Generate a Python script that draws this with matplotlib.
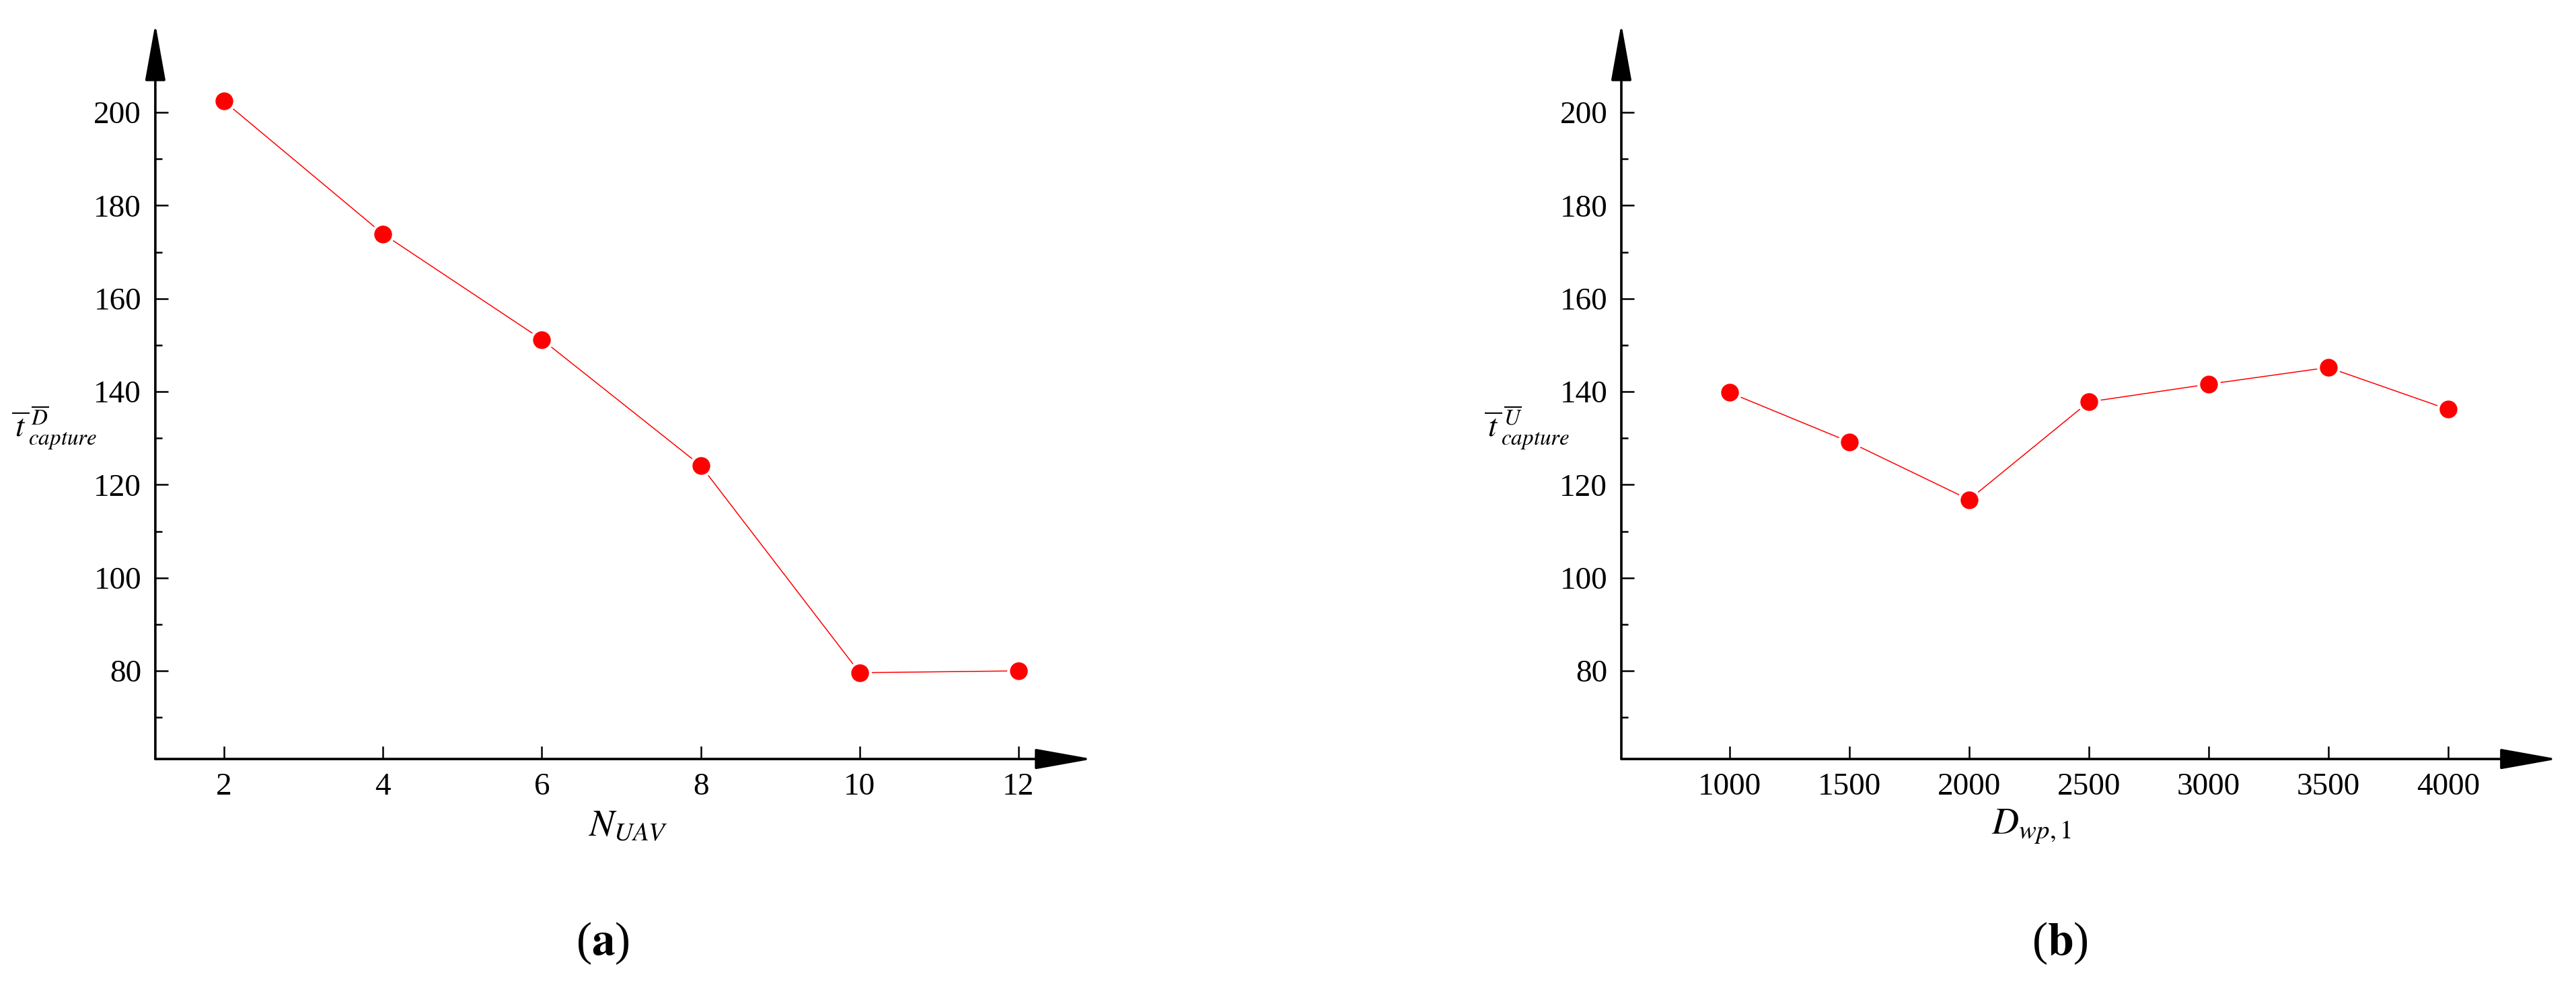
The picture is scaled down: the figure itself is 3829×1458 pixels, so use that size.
import numpy as np
import matplotlib
matplotlib.use('Agg')
import matplotlib.pyplot as plt
from matplotlib.ticker import FixedLocator

plt.rcParams['font.family'] = ['Liberation Serif', 'DejaVu Serif']
plt.rcParams['mathtext.fontset'] = 'stix'

# data
n_uav = [2, 4, 6, 8, 10, 12]
t_capture_d = [202.4, 173.9, 151.2, 124.1, 79.6, 80.0]

d_wp = [1000, 1500, 2000, 2500, 3000, 3500, 4000]
t_capture_u = [139.8, 129.2, 116.8, 137.8, 141.6, 145.2, 136.2]

y_major = [80, 100, 120, 140, 160, 180, 200]
y_minor = [70, 90, 110, 130, 150, 170, 190]

fig = plt.figure(figsize=(38.29, 14.58), dpi=100)
ax1 = fig.add_axes([0.0603, 0.2263, 0.3638, 0.7497])
ax2 = fig.add_axes([0.6294, 0.2263, 0.3635, 0.7497])


def style_axis(ax, xlim, xticks, xlabel, ylabel, xlab_x, ylab_x):
    ax.set_xlim(*xlim)
    ax.set_ylim(61.06, 219.1)
    for s in ax.spines.values():
        s.set_visible(False)
    arrow = dict(arrowstyle='-|>,head_length=53,head_width=9.5', lw=2.6,
                 color='black', shrinkA=0, shrinkB=0, mutation_scale=1)
    ax.annotate('', xy=(1, 0), xytext=(0, 0), xycoords='axes fraction',
                arrowprops=arrow, annotation_clip=False)
    ax.annotate('', xy=(0, 1), xytext=(0, 0), xycoords='axes fraction',
                arrowprops=arrow, annotation_clip=False)
    ax.set_xticks(xticks)
    ax.yaxis.set_major_locator(FixedLocator(y_major))
    ax.yaxis.set_minor_locator(FixedLocator(y_minor))
    ax.tick_params(axis='both', which='major', direction='in', length=14,
                   width=1.8, labelsize=34, pad=15)
    ax.tick_params(axis='y', which='minor', direction='in', length=7, width=1.8)
    ax.tick_params(top=False, right=False)
    ax.set_xlabel(xlabel, fontsize=40)
    ax.xaxis.set_label_coords(xlab_x, -0.067)
    ax.set_ylabel(ylabel, fontsize=34, rotation=0, va='center', ha='center')
    ax.yaxis.set_label_coords(ylab_x, 0.45)


ax1.plot(n_uav, t_capture_d, '-', color='red', lw=1.1, zorder=3)
ax1.plot(n_uav, t_capture_d, 'o', ms=22, mfc='red', mec='white', mew=3, zorder=4)
style_axis(ax1, (1.135, 12.93), n_uav, r'$N_{UAV}$',
           r'$\overline{\,t\,}_{capture}^{\,\overline{D}}$', 0.504, -0.108)

ax2.plot(d_wp, t_capture_u, '-', color='red', lw=1.1, zorder=3)
ax2.plot(d_wp, t_capture_u, 'o', ms=22, mfc='red', mec='white', mew=3, zorder=4)
style_axis(ax2, (548, 4458), d_wp, r'$D_{wp,1}$',
           r'$\overline{\,t\,}_{capture}^{\,\overline{U}}$', 0.4375, -0.101)

fig.text(0.234, 0.0384, r'($\mathbf{a}$)', fontsize=50, ha='center', va='center')
fig.text(0.7997, 0.0384, r'($\mathbf{b}$)', fontsize=50, ha='center', va='center')

fig.savefig('out.png', dpi=100, facecolor='white')
